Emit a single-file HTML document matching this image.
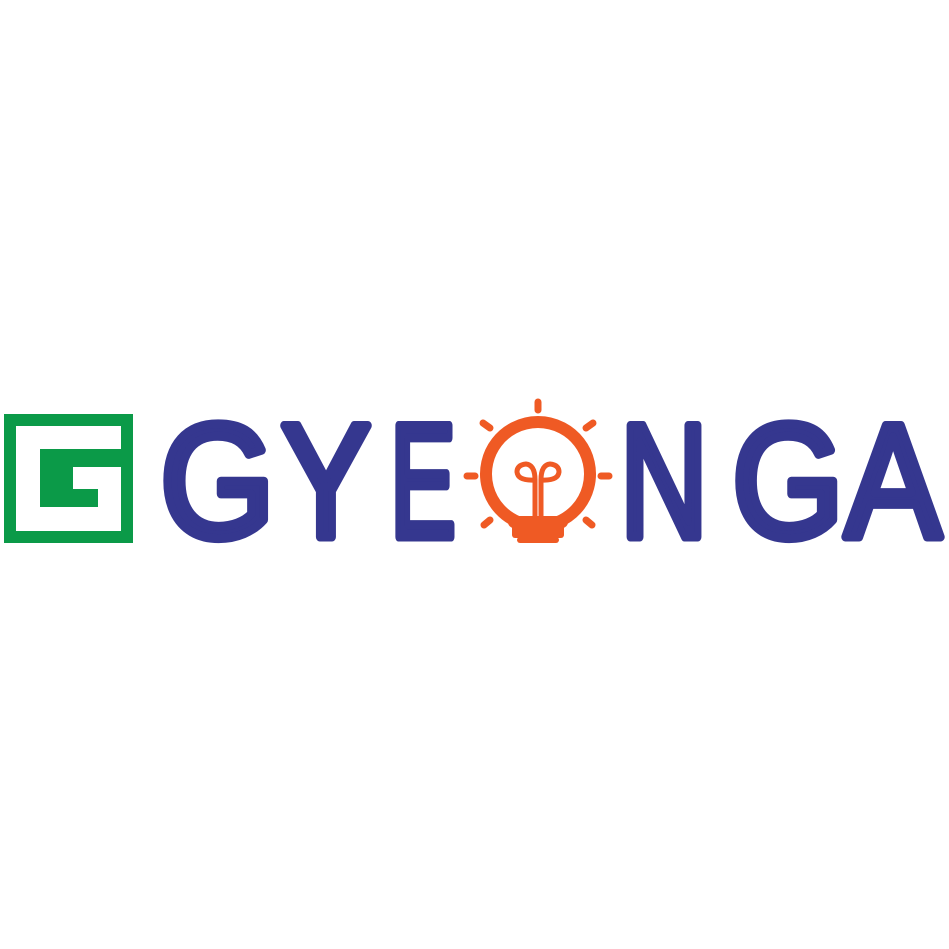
<!DOCTYPE html>
<html><head><meta charset="utf-8"><style>
html,body{margin:0;padding:0;background:#fff;width:949px;height:949px;overflow:hidden}
svg{display:block}
text{font-family:"Liberation Sans",sans-serif;font-weight:normal;fill:#35378f;stroke:#35378f;stroke-width:9;stroke-linejoin:round;stroke-linecap:round}
</style></head><body>
<svg width="949" height="949" viewBox="0 0 949 949">
  <g fill="#0b9a48">
    <path d="M4 414H133V543H4Z M16 426V531H121V426Z" fill-rule="evenodd"/>
    <rect x="40" y="449" width="82" height="18"/>
    <rect x="40" y="467" width="33" height="40"/>
    <rect x="73" y="489" width="25" height="18"/>
  </g>
  <g font-size="162">
    <text x="160" y="537" textLength="115" lengthAdjust="spacingAndGlyphs">G</text>
    <text x="281" y="537" textLength="90" lengthAdjust="spacingAndGlyphs">Y</text>
    <text x="390" y="537" textLength="66" lengthAdjust="spacingAndGlyphs">E</text>
    <text x="620" y="537" textLength="88" lengthAdjust="spacingAndGlyphs">N</text>
    <text x="732" y="537" textLength="112" lengthAdjust="spacingAndGlyphs">G</text>
    <text x="845" y="537" textLength="96" lengthAdjust="spacingAndGlyphs">A</text>
  </g>
  <g stroke="#ef5a24" fill="none" stroke-linecap="round" stroke-width="7">
    <path d="M518 522 A52 52 0 1 1 558 522" stroke-width="12"/>
    <path d="M514 522H562" stroke-width="12"/>
    <rect x="512" y="524" width="52" height="14" fill="#ef5a24" stroke="none" rx="3"/>
    <path d="M520 540H556" stroke-width="6"/>
    <path d="M535 522V480 Q535 465 526 464 Q517 465 517 472 Q518 481 535 480" stroke-width="5"/>
    <path d="M541 522V480 Q541 465 550 464 Q559 465 559 472 Q558 481 541 480" stroke-width="5"/>
    <path d="M538 402V410"/>
    <path d="M483 423L490 428"/>
    <path d="M593 423L586 428"/>
    <path d="M467 476H475"/>
    <path d="M601 476H609"/>
    <path d="M490 520L484 525"/>
    <path d="M586 520L592 525"/>
  </g>
</svg>
</body></html>
